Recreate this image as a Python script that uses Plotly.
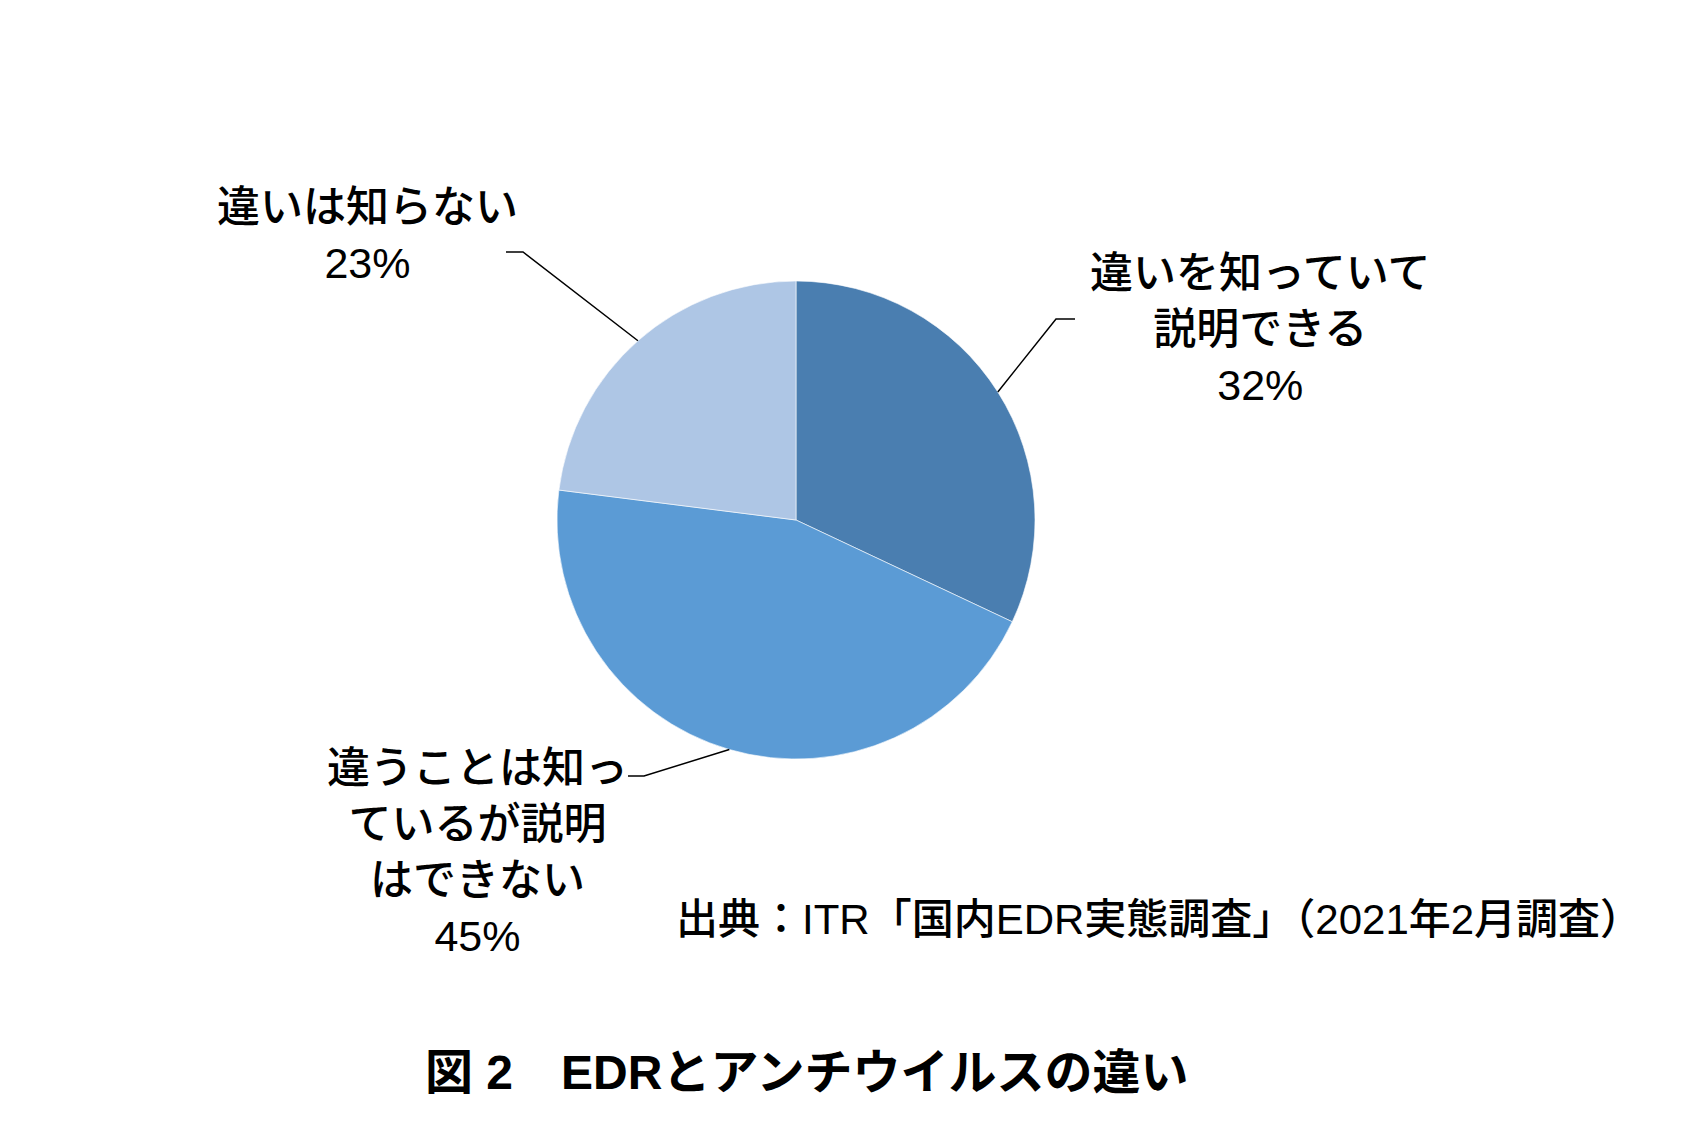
import math
import plotly.graph_objects as go

# slice data (clockwise from 12 o'clock)
labels = ["違いを知っていて<br>説明できる", "違うことは知っ<br>ているが説明<br>はできない", "違いは知らない"]
values = [32, 45, 23]
colors = ["#4A7EB0", "#5B9BD5", "#AEC6E5"]

source_text = "出典：ITR「国内EDR実態調査」（2021年2月調査）"
title_text = "図 2　EDRとアンチウイルスの違い"

W, H = 1682, 1127
OFF = 11  # page margin offset
FONT = "Liberation Sans, Arial, Noto Sans CJK JP, sans-serif"

# pie placement in pixels
cx, cy, r = 799, 523, 239

# where each label sits and where its leader line bends (pixels)
label_pos = [(1263, 332), (480, 855), (370, 238)]
elbows = [(1059, 322), (647, 779), (526, 255)]
line_ends = [(1078, 322), (631, 779), (509, 255)]


def px(x, y):
    return (x - OFF) / W, 1 - (y - OFF) / H


def main():
    x0, y1 = px(cx - r, cy - r)
    x1, y0 = px(cx + r, cy + r)
    fig = go.Figure(go.Pie(
        values=values,
        labels=labels,
        sort=False,
        direction="clockwise",
        rotation=0,
        textinfo="none",
        hoverinfo="label+percent",
        marker=dict(colors=colors, line=dict(color="white", width=0.6)),
        domain=dict(x=[x0, x1], y=[y0, y1]),
        showlegend=False,
    ))

    total = sum(values)
    cum = 0
    for i, v in enumerate(values):
        theta = 2 * math.pi * (cum + v / 2) / total
        cum += v
        ex, ey = px(cx + r * math.sin(theta), cy - r * math.cos(theta))
        bx, by = px(*elbows[i])
        tx, ty = px(*line_ends[i])
        fig.add_shape(type="path", xref="paper", yref="paper",
                      path=f"M {ex},{ey} L {bx},{by} L {tx},{ty}",
                      line=dict(color="black", width=1.5))
        lx, ly = px(*label_pos[i])
        fig.add_annotation(x=lx, y=ly, xref="paper", yref="paper",
                           text=f"{labels[i]}<br>{round(v / total * 100)}%",
                           showarrow=False, align="center",
                           xanchor="center", yanchor="middle",
                           font=dict(size=43, color="black", family=FONT, weight=500))

    sx, sy = px(677, 922)
    fig.add_annotation(x=sx, y=sy, xref="paper", yref="paper", text=source_text,
                       showarrow=False, xanchor="left", yanchor="middle",
                       font=dict(size=42, color="black", family=FONT, weight=500))
    tx, ty = px(426, 1075)
    fig.add_annotation(x=tx, y=ty, xref="paper", yref="paper", text=f"<b>{title_text}</b>",
                       showarrow=False, xanchor="left", yanchor="middle",
                       font=dict(size=48, color="black", family=FONT))

    fig.update_layout(width=W, height=H, margin=dict(l=0, r=0, t=0, b=0),
                      paper_bgcolor="white", plot_bgcolor="white")
    fig.write_html("out.html")


main()
